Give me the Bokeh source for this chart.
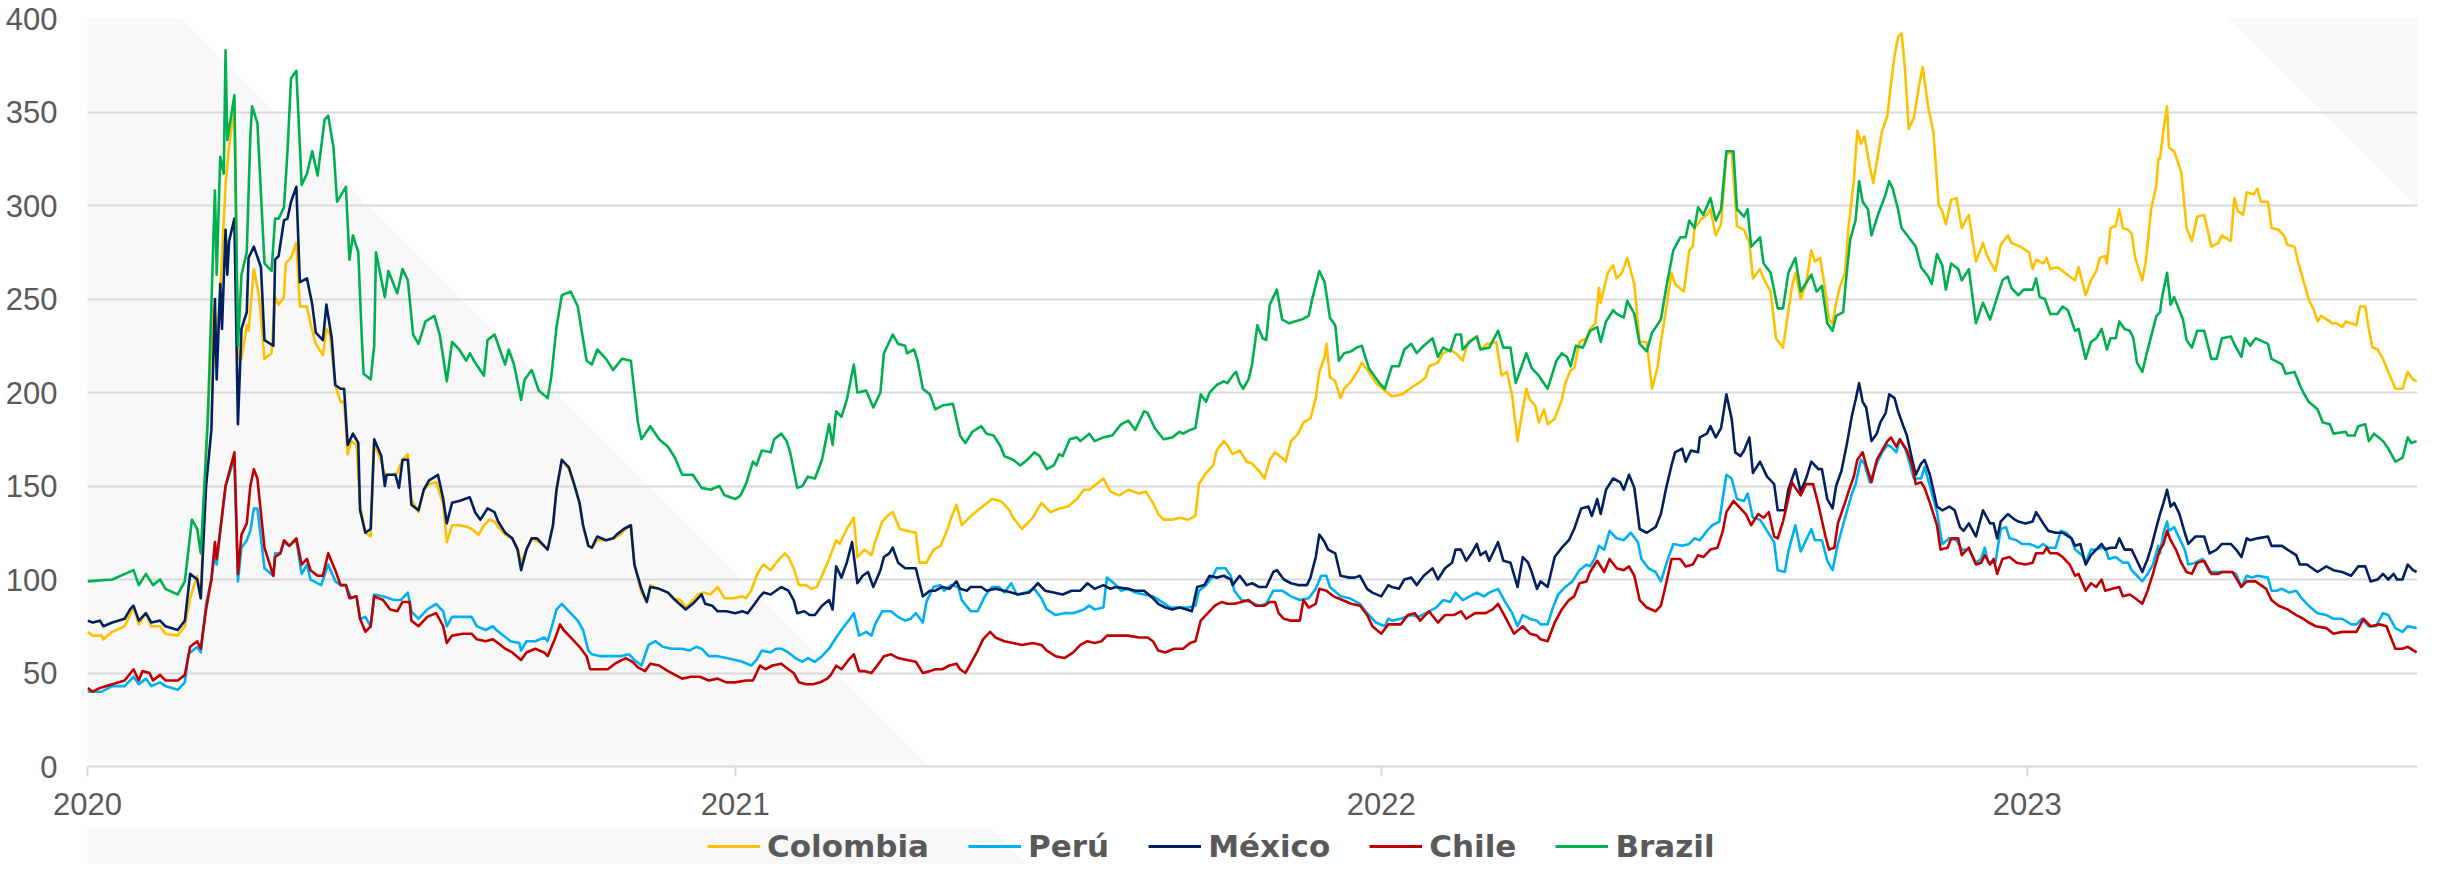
import pandas as pd
from bokeh.plotting import figure
from bokeh.layouts import column
from bokeh.models import (Range1d, FixedTicker, DatetimeTickFormatter, Legend,
                          LegendItem, PolyAnnotation)
from bokeh.embed import file_html
from bokeh.resources import INLINE

# ---------------- data (day offset from 2020-01-01, spread in bp) ----------------
START = pd.Timestamp("2020-01-01")
LAST_DAY = 1316.5

COLOMBIA = [(0,72),(3,70),(8,70),(9,68),(14,72),(21,75),(24,81),(26,85),(29,76),(33,82),(36,75),(41,75),(44,71),(51,70),(55,75),(58,90),(62,102),(64,90),(67,168),(71,245),(73,227),(75,254),(78,311),(80,332),(83,353),(85,218),(87,218),(90,236),(91,233),(94,266),(97,251),(100,218),(104,221),(106,251),(108,247),(111,251),(112,269),(115,272),(118,280),(120,246),(124,246),(126,237),(129,226),(133,220),(135,234),(137,231),(140,204),(143,195),(145,195),(147,167),(149,174),(152,172),(154,140),(157,125),(160,123),(162,173),(166,163),(168,156),(172,156),(175,157),(178,164),(181,167),(183,143),(187,136),(190,148),(193,151),(197,152),(201,140),(203,120),(206,129),(210,129),(215,128),(217,127),(221,124),(224,129),(227,132),(230,131),(232,128),(236,124),(240,122),(243,117),(245,109),(248,116),(251,122),(255,120),(258,118),(260,116),(263,129),(265,148),(268,164),(272,159),(275,150),(278,141),(280,129),(283,118),(285,117),(288,121),(293,121),(297,122),(301,124),(304,127),(307,129),(309,108),(313,93),(316,88),(318,97),(323,95),(328,93),(331,90),(335,89),(338,85),(345,92),(348,93),(352,92),(356,96),(360,90),(365,90),(370,91),(372,90),(375,94),(378,102),(381,107),(382,108),(386,105),(390,110),(394,114),(396,112),(399,106),(402,97),(406,97),(409,95),(412,96),(415,102),(419,111),(423,121),(425,119),(429,127),(433,133),(435,112),(439,116),(443,113),(445,120),(449,131),(452,134),(455,136),(459,127),(463,126),(468,125),(470,109),(474,109),(478,116),(482,118),(486,127),(488,133),(491,140),(494,129),(498,133),(503,137),(507,140),(511,143),(516,142),(521,137),(523,133),(528,127),(534,133),(539,141),(544,136),(549,138),(554,139),(559,143),(563,148),(566,148),(570,151),(574,154),(578,147),(583,145),(588,148),(594,146),(598,147),(602,141),(605,135),(608,132),(613,132),(617,133),(622,132),(626,134),(628,151),(632,157),(636,161),(638,169),(642,174),(644,172),(647,167),(651,169),(655,163),(658,162),(662,158),(665,154),(668,164),(671,168),(675,165),(677,163),(680,174),(684,178),(687,184),(691,186),(694,197),(696,211),(699,219),(700,226),(702,208),(705,206),(708,197),(710,202),(714,206),(718,212),(720,216),(724,211),(728,205),(733,201),(737,198),(743,199),(747,202),(752,205),(756,208),(758,214),(763,216),(766,221),(770,223),(773,221),(777,217),(780,227),(785,230),(787,223),(791,226),(796,227),(799,209),(802,211),(805,198),(808,174),(810,186),(813,202),(815,196),(818,193),(820,184),(823,191),(825,183),(829,186),(833,196),(835,205),(838,212),(840,213),(843,227),(847,229),(849,234),(852,237),(854,256),(855,248),(859,264),(862,268),(864,261),(867,264),(870,272),(874,258),(877,227),(881,227),(884,202),(887,213),(889,227),(892,245),(895,264),(897,258),(902,254),(905,276),(907,278),(908,288),(912,293),(915,295),(917,298),(920,284),(923,290),(926,327),(929,329),(932,289),(936,287),(939,280),(941,261),(945,266),(947,261),(951,254),(954,229),(958,224),(960,237),(963,256),(965,264),(968,250),(971,258),(974,276),(976,270),(979,272),(982,254),(984,239),(986,237),(988,248),(990,256),(993,264),(995,288),(998,313),(1000,340),(1002,333),(1004,337),(1007,321),(1009,312),(1012,329),(1014,340),(1017,348),(1019,365),(1021,380),(1023,390),(1025,392),(1027,372),(1029,341),(1032,347),(1035,365),(1037,374),(1040,353),(1043,339),(1046,300),(1048,297),(1050,290),(1053,303),(1056,304),(1059,288),(1063,295),(1067,270),(1071,280),(1073,274),(1075,270),(1078,265),(1081,279),(1085,284),(1087,280),(1092,278),(1097,275),(1099,266),(1101,271),(1105,269),(1107,272),(1109,266),(1113,267),(1116,265),(1120,262),(1123,260),(1125,267),(1129,252),(1132,260),(1135,265),(1137,272),(1140,273),(1141,269),(1143,288),(1146,289),(1148,298),(1150,288),(1153,287),(1155,285),(1157,272),(1161,260),(1163,270),(1166,298),(1169,311),(1170,325),(1171,325),(1173,341),(1175,353),(1176,331),(1179,329),(1183,318),(1186,288),(1189,281),(1192,294),(1196,295),(1200,278),(1204,280),(1206,284),(1211,281),(1213,304),(1215,297),(1218,295),(1220,307),(1224,306),(1226,309),(1228,302),(1232,302),(1234,288),(1238,287),(1241,284),(1243,279),(1247,278),(1249,270),(1252,260),(1255,250),(1258,244),(1260,238),(1262,241),(1267,238),(1268,237),(1271,237),(1274,235),(1276,238),(1282,236),(1284,246),(1287,246),(1289,234),(1291,224),(1294,223),(1297,218),(1300,211),(1304,202),(1308,202),(1311,211),(1314,207),(1316,206)]

PERU = [(0,40),(8,40),(14,43),(21,43),(26,48),(29,44),(33,47),(36,43),(41,45),(44,43),(51,41),(55,45),(57,60),(62,64),(64,61),(67,87),(70,100),(72,114),(73,108),(75,126),(78,150),(80,156),(83,165),(85,99),(87,117),(90,121),(92,126),(94,138),(96,138),(100,106),(105,102),(106,114),(109,114),(111,120),(114,118),(118,121),(121,103),(124,108),(126,100),(132,97),(136,108),(140,99),(143,97),(146,97),(149,90),(152,91),(154,79),(157,80),(160,75),(162,92),(167,91),(173,89),(177,89),(181,93),(183,83),(187,79),(192,84),(197,87),(201,83),(203,75),(206,80),(212,80),(217,80),(220,75),(225,73),(229,75),(231,73),(235,70),(239,67),(244,66),(245,62),(248,67),(253,67),(258,69),(260,67),(263,77),(265,84),(268,87),(272,83),(277,78),(280,73),(283,62),(285,60),(290,59),(296,59),(301,59),(306,60),(309,57),(313,54),(317,65),(321,67),(325,64),(330,63),(336,63),(340,62),(344,64),(347,63),(351,59),(356,59),(361,58),(366,57),(370,56),(375,54),(378,57),(381,62),(386,61),(389,63),(392,63),(396,61),(400,58),(404,56),(407,58),(411,56),(415,59),(419,63),(423,69),(426,73),(430,78),(433,82),(436,70),(440,72),(443,70),(445,76),(449,83),(454,83),(458,80),(462,78),(465,79),(468,82),(472,77),(474,88),(478,96),(482,97),(484,94),(488,97),(492,96),(494,89),(499,83),(503,83),(507,91),(511,96),(515,96),(518,93),(522,98),(525,92),(530,93),(535,95),(539,90),(542,84),(547,81),(552,82),(557,82),(563,84),(566,86),(569,84),(574,85),(576,101),(580,98),(584,94),(588,95),(592,93),(597,92),(602,91),(607,88),(612,85),(617,85),(622,85),(626,86),(628,94),(632,97),(636,102),(638,106),(643,106),(646,102),(648,94),(652,89),(657,88),(662,86),(666,87),(670,94),(675,94),(680,91),(685,89),(690,90),(694,95),(697,102),(700,102),(702,96),(708,91),(713,90),(719,87),(723,82),(728,77),(733,75),(735,79),(737,78),(742,79),(748,81),(752,80),(758,83),(762,85),(766,89),(770,88),(773,93),(777,89),(781,91),(785,93),(789,91),(792,93),(797,95),(801,88),(805,82),(808,75),(811,81),(815,79),(819,78),(821,76),(825,76),(828,85),(831,92),(835,96),(839,99),(843,105),(847,108),(849,107),(852,112),(854,118),(857,116),(860,126),(864,122),(868,121),(872,125),(876,120),(878,111),(882,106),(886,104),(889,99),(893,111),(896,119),(901,118),(905,119),(908,122),(911,121),(915,126),(918,129),(922,131),(926,156),(929,154),(932,143),(936,142),(938,146),(941,133),(945,132),(949,126),(953,120),(955,105),(959,104),(961,115),(965,129),(968,115),(971,121),(974,127),(976,121),(980,121),(983,110),(986,105),(989,119),(993,133),(997,146),(999,151),(1002,164),(1004,162),(1007,152),(1011,162),(1014,168),(1017,172),(1019,171),(1022,168),(1024,175),(1027,170),(1029,164),(1032,154),(1036,154),(1038,160),(1041,150),(1045,136),(1048,119),(1052,122),(1056,121),(1059,116),(1063,116),(1067,109),(1070,111),(1072,117),(1074,109),(1078,109),(1081,127),(1084,128),(1086,122),(1090,121),(1093,119),(1097,119),(1100,118),(1102,117),(1105,119),(1108,117),(1112,117),(1115,126),(1118,125),(1121,122),(1123,116),(1127,113),(1129,109),(1132,116),(1135,116),(1138,117),(1140,117),(1142,111),(1146,112),(1150,109),(1153,109),(1155,105),(1158,102),(1161,99),(1164,103),(1167,108),(1170,118),(1171,114),(1173,125),(1175,131),(1176,126),(1179,128),(1182,122),(1185,116),(1187,108),(1191,109),(1195,111),(1199,104),(1203,104),(1206,104),(1211,104),(1214,103),(1217,96),(1220,102),(1223,101),(1226,102),(1232,101),(1234,94),(1237,94),(1240,95),(1244,93),(1248,94),(1251,90),(1255,86),(1260,82),(1265,81),(1269,79),(1274,79),(1279,76),(1282,76),(1285,79),(1289,75),(1293,75),(1297,82),(1300,81),(1304,74),(1308,72),(1311,75),(1316,74)]

MEXICO = [(0,78),(3,77),(7,78),(9,75),(14,77),(21,79),(24,84),(26,86),(29,78),(33,82),(36,77),(41,78),(44,75),(51,73),(55,78),(58,103),(62,100),(64,90),(67,150),(70,180),(72,250),(73,207),(75,258),(76,234),(78,287),(79,263),(80,281),(83,293),(85,183),(87,234),(90,243),(91,272),(94,278),(98,267),(100,228),(105,225),(106,271),(108,273),(111,292),(113,293),(115,302),(118,310),(120,259),(124,261),(127,247),(129,232),(133,228),(135,247),(138,229),(140,204),(143,202),(145,202),(147,172),(150,178),(153,173),(154,137),(157,125),(160,127),(162,175),(166,166),(168,150),(169,156),(174,156),(176,149),(178,164),(181,164),(183,140),(187,137),(190,148),(193,153),(198,156),(201,143),(203,130),(206,141),(210,142),(216,144),(219,136),(222,132),(226,138),(230,136),(232,131),(236,125),(240,122),(243,116),(245,105),(248,116),(251,122),(254,122),(258,118),(260,116),(263,129),(265,148),(268,164),(272,160),(275,151),(278,141),(280,129),(283,118),(285,117),(288,123),(293,121),(297,122),(299,124),(303,127),(307,129),(309,108),(313,95),(316,88),(318,96),(323,95),(328,93),(332,89),(338,84),(342,87),(347,92),(349,87),(353,86),(356,83),(361,83),(366,82),(370,83),(373,82),(377,87),(380,91),(382,93),(386,92),(389,94),(392,96),(396,94),(399,89),(401,82),(405,83),(408,81),(411,81),(415,86),(419,89),(421,84),(423,107),(426,101),(429,109),(432,120),(435,98),(438,102),(441,104),(444,96),(448,105),(450,112),(453,114),(455,117),(458,109),(462,106),(468,106),(472,91),(476,94),(479,94),(483,96),(487,95),(491,99),(493,95),(497,94),(499,96),(505,96),(508,94),(513,95),(518,94),(522,93),(526,92),(532,93),(537,98),(541,94),(546,93),(551,92),(556,94),(561,94),(565,98),(569,95),(574,97),(578,95),(581,96),(588,95),(592,94),(597,94),(602,90),(605,87),(609,85),(613,84),(617,85),(621,84),(624,83),(627,96),(631,97),(634,102),(638,101),(642,102),(646,100),(647,97),(651,102),(655,97),(658,98),(662,96),(666,96),(670,104),(672,105),(676,100),(680,98),(684,97),(689,97),(691,101),(694,112),(696,124),(699,120),(701,116),(705,114),(708,102),(713,101),(716,101),(719,102),(723,95),(726,93),(731,91),(735,97),(737,96),(741,95),(744,100),(748,101),(751,97),(755,102),(760,106),(763,100),(767,106),(771,109),(773,116),(776,116),(779,110),(782,114),(785,119),(787,113),(790,115),(792,110),(797,120),(800,110),(804,109),(808,96),(811,112),(814,109),(816,104),(819,95),(821,99),(825,96),(829,112),(833,117),(837,121),(840,127),(844,138),(848,139),(850,134),(853,143),(855,135),(858,148),(862,154),(866,152),(868,148),(871,156),(874,149),(877,127),(881,125),(886,128),(889,135),(892,149),(895,161),(897,168),(901,170),(903,163),(906,169),(910,168),(911,176),(915,178),(917,182),(920,176),(923,181),(926,199),(929,186),(931,168),(934,166),(936,169),(939,176),(941,157),(945,163),(949,155),(953,151),(955,137),(959,137),(961,148),(965,159),(968,147),(971,154),(974,163),(978,159),(980,159),(983,143),(986,138),(988,150),(991,158),(994,172),(997,188),(999,196),(1001,205),(1003,195),(1005,192),(1008,174),(1011,178),(1013,184),(1016,189),(1018,199),(1021,197),(1023,190),(1026,182),(1028,177),(1031,164),(1033,156),(1036,162),(1038,164),(1041,156),(1045,139),(1048,137),(1052,139),(1055,137),(1058,128),(1060,126),(1063,130),(1067,123),(1071,137),(1075,130),(1077,130),(1079,122),(1081,131),(1085,135),(1089,132),(1091,131),(1095,130),(1099,131),(1101,136),(1105,130),(1108,126),(1112,125),(1116,125),(1121,122),(1123,118),(1126,119),(1129,108),(1132,113),(1135,116),(1138,119),(1140,116),(1143,117),(1146,117),(1148,122),(1151,116),(1155,116),(1157,112),(1161,104),(1164,111),(1166,117),(1169,128),(1171,135),(1173,141),(1175,148),(1177,139),(1179,141),(1182,135),(1185,125),(1187,119),(1191,123),(1196,123),(1199,114),(1203,116),(1206,119),(1211,119),(1214,116),(1217,112),(1220,122),(1222,121),(1226,122),(1232,123),(1234,118),(1240,118),(1243,116),(1248,113),(1250,108),(1254,108),(1260,104),(1265,107),(1269,105),(1274,104),(1279,102),(1283,107),(1287,107),(1290,99),(1294,100),(1297,103),(1300,100),(1303,103),(1305,100),(1308,100),(1311,108),(1314,105),(1316,104)]

CHILE = [(0,42),(3,40),(7,42),(14,44),(21,46),(26,52),(29,46),(31,51),(35,50),(37,46),(41,49),(44,46),(51,46),(55,49),(58,64),(62,67),(64,63),(67,84),(70,100),(72,120),(73,111),(75,126),(78,150),(80,157),(83,168),(85,103),(87,124),(90,130),(92,150),(94,159),(96,154),(100,117),(105,102),(106,112),(109,114),(111,121),(114,118),(118,122),(121,108),(124,111),(126,105),(130,102),(133,102),(136,114),(140,105),(143,97),(146,97),(148,90),(152,91),(154,79),(157,72),(160,75),(162,91),(167,89),(171,84),(175,83),(178,88),(182,88),(183,78),(187,75),(192,80),(197,82),(201,75),(203,66),(206,70),(212,71),(217,71),(220,68),(225,67),(229,68),(232,66),(236,63),(240,61),(245,57),(248,61),(253,63),(258,61),(260,59),(264,68),(267,76),(269,73),(273,69),(278,64),(282,59),(284,52),(289,52),(294,52),(298,55),(304,58),(308,56),(311,53),(315,51),(318,55),(323,54),(328,51),(332,49),(336,47),(341,48),(346,48),(351,46),(356,47),(361,45),(366,45),(372,46),(376,46),(380,54),(383,52),(387,54),(392,55),(396,52),(399,50),(402,45),(406,44),(410,44),(414,45),(418,47),(420,49),(423,54),(426,52),(430,57),(433,60),(436,51),(439,51),(443,50),(447,55),(450,59),(454,60),(458,58),(463,57),(468,56),(472,50),(476,51),(479,52),(483,52),(487,54),(491,55),(493,52),(496,50),(499,55),(503,62),(506,68),(510,72),(513,69),(518,67),(523,66),(528,65),(534,66),(539,65),(542,62),(547,59),(552,58),(557,61),(561,65),(565,67),(569,66),(573,67),(576,70),(581,70),(588,70),(594,69),(599,69),(602,67),(605,62),(609,61),(614,63),(619,63),(623,66),(626,67),(629,78),(633,82),(637,86),(641,88),(644,87),(648,87),(652,88),(656,89),(660,86),(665,86),(668,88),(671,88),(673,82),(676,79),(680,78),(685,78),(687,89),(690,85),(694,87),(696,95),(700,94),(704,91),(709,89),(714,87),(719,86),(723,81),(726,75),(731,71),(735,76),(742,76),(746,81),(750,82),(753,78),(758,83),(763,77),(767,81),(772,81),(776,83),(779,79),(784,82),(790,82),(794,84),(797,87),(801,80),(806,71),(811,75),(815,71),(819,70),(821,68),(825,67),(829,77),(833,84),(837,89),(840,91),(843,98),(847,99),(849,104),(853,110),(857,104),(860,111),(864,106),(868,105),(871,107),(874,102),(877,89),(881,85),(886,83),(889,86),(892,98),(895,111),(900,111),(903,107),(907,108),(910,113),(913,112),(917,116),(921,117),(924,126),(926,136),(930,142),(934,138),(937,135),(940,129),(944,135),(947,133),(950,136),(953,123),(955,122),(958,131),(960,139),(963,152),(965,149),(968,145),(971,151),(975,151),(978,140),(982,123),(984,116),(987,117),(989,130),(993,141),(995,147),(998,155),(1000,164),(1003,168),(1005,161),(1008,152),(1011,164),(1014,169),(1017,174),(1019,176),(1022,171),(1024,175),(1028,169),(1031,161),(1033,151),(1036,152),(1038,149),(1041,141),(1045,129),(1047,116),(1051,117),(1053,122),(1057,122),(1059,113),(1063,117),(1067,108),(1070,109),(1072,113),(1075,108),(1077,111),(1079,103),(1082,111),(1086,112),(1090,109),(1095,108),(1099,109),(1101,114),(1105,114),(1107,117),(1109,114),(1113,114),(1116,112),(1120,108),(1123,102),(1125,103),(1129,94),(1132,98),(1135,96),(1138,100),(1140,94),(1144,95),(1148,96),(1150,91),(1154,92),(1157,90),(1161,87),(1164,94),(1167,103),(1170,113),(1171,116),(1173,119),(1175,126),(1177,121),(1180,116),(1183,109),(1186,104),(1189,103),(1192,109),(1196,110),(1200,103),(1204,103),(1206,104),(1212,104),(1217,96),(1220,99),(1225,99),(1231,95),(1234,89),(1238,86),(1243,84),(1248,81),(1252,79),(1255,77),(1259,75),(1265,74),(1269,71),(1274,72),(1279,72),(1282,72),(1286,79),(1290,75),(1295,76),(1299,75),(1301,70),(1304,63),(1308,63),(1311,64),(1316,61)]

BRAZIL = [(0,99),(14,100),(26,105),(29,97),(33,103),(37,97),(41,100),(44,95),(51,92),(55,99),(59,132),(62,127),(64,114),(68,186),(72,308),(73,263),(75,326),(77,317),(78,383),(79,335),(83,359),(85,225),(87,263),(90,275),(92,337),(93,353),(96,344),(100,269),(104,265),(106,293),(108,293),(111,299),(113,329),(115,368),(118,372),(121,311),(124,317),(127,329),(130,316),(134,346),(136,348),(139,331),(141,302),(146,310),(148,271),(150,284),(153,275),(155,229),(156,210),(160,207),(162,225),(163,275),(168,251),(170,265),(175,253),(178,266),(181,260),(184,231),(187,226),(191,238),(196,241),(199,231),(203,206),(206,227),(210,223),(214,217),(216,221),(219,216),(224,209),(226,228),(230,231),(236,215),(238,223),(241,215),(245,196),(247,207),(251,212),(255,201),(260,197),(262,208),(265,235),(268,252),(273,254),(277,246),(282,217),(285,215),(288,223),(293,218),(297,212),(302,218),(307,217),(311,184),(313,175),(318,182),(323,175),(328,171),(332,165),(336,156),(342,156),(347,149),(352,148),(357,150),(360,145),(366,143),(369,145),(372,151),(376,163),(378,161),(381,169),(386,168),(388,175),(392,178),(395,174),(397,168),(401,149),(404,150),(407,155),(411,154),(415,164),(419,183),(421,172),(423,190),(426,187),(429,196),(433,215),(435,200),(440,201),(444,192),(448,200),(450,221),(455,231),(458,226),(462,225),(463,221),(467,223),(469,217),(472,202),(476,199),(479,191),(483,193),(489,194),(493,177),(496,173),(500,179),(505,182),(508,178),(512,177),(516,171),(518,166),(523,164),(527,161),(531,164),(535,168),(538,166),(542,159),(546,161),(549,167),(551,166),(555,175),(559,176),(561,174),(566,178),(569,174),(574,176),(579,177),(584,183),(588,185),(592,180),(597,190),(599,189),(603,181),(608,175),(613,176),(617,179),(619,178),(623,180),(626,181),(629,199),(632,195),(634,200),(638,204),(642,206),(644,205),(647,209),(649,211),(651,205),(653,202),(656,207),(658,215),(661,236),(664,229),(666,228),(668,247),(672,255),(675,239),(679,237),(682,238),(686,239),(690,241),(692,250),(696,265),(699,259),(702,240),(705,236),(707,217),(710,221),(714,222),(717,224),(720,225),(724,213),(730,205),(733,202),(737,214),(741,214),(744,223),(748,226),(751,221),(755,225),(760,229),(763,219),(766,224),(770,222),(773,231),(776,231),(777,223),(781,227),(785,230),(787,223),(792,224),(797,233),(800,224),(804,224),(807,205),(813,221),(816,213),(820,209),(825,202),(830,217),(833,221),(836,219),(838,214),(841,225),(845,224),(849,233),(853,235),(855,227),(858,238),(862,244),(864,242),(868,240),(870,249),(874,242),(877,226),(881,222),(884,232),(889,239),(892,256),(896,276),(900,283),(903,283),(905,292),(908,288),(910,299),(913,295),(917,304),(920,292),(923,298),(926,329),(930,329),(932,298),(936,294),(938,298),(940,278),(945,283),(947,269),(951,264),(955,245),(958,245),(961,264),(965,272),(968,254),(972,260),(974,263),(977,254),(980,257),(983,237),(986,233),(988,241),(992,243),(994,264),(996,282),(999,292),(1001,313),(1003,302),(1006,298),(1008,284),(1012,296),(1016,306),(1018,313),(1020,309),(1023,298),(1025,288),(1029,283),(1033,278),(1036,267),(1040,262),(1042,258),(1045,274),(1048,268),(1050,255),(1053,269),(1057,266),(1059,260),(1063,266),(1067,237),(1071,248),(1075,239),(1078,248),(1082,260),(1085,262),(1087,256),(1091,252),(1094,255),(1099,255),(1101,261),(1103,251),(1106,250),(1109,242),(1113,242),(1116,246),(1119,244),(1123,233),(1125,234),(1129,218),(1132,227),(1135,229),(1138,234),(1141,223),(1143,229),(1146,229),(1148,238),(1151,234),(1154,233),(1156,229),(1158,216),(1161,211),(1163,219),(1166,230),(1169,241),(1171,243),(1172,250),(1175,264),(1177,247),(1179,251),(1184,239),(1186,228),(1189,224),(1192,233),(1196,233),(1200,218),(1203,218),(1206,229),(1211,230),(1214,224),(1217,219),(1219,229),(1222,225),(1225,229),(1232,226),(1234,218),(1240,215),(1242,210),(1247,211),(1250,204),(1252,200),(1255,195),(1260,191),(1263,184),(1267,183),(1269,178),(1276,179),(1277,177),(1281,177),(1283,182),(1287,183),(1289,174),(1292,178),(1297,174),(1300,170),(1304,163),(1308,165),(1311,176),(1313,173),(1316,174)]

SERIES_NAMES = ["Colombia", "Perú", "México", "Chile", "Brazil"]
SERIES_DATA = [COLOMBIA, PERU, MEXICO, CHILE, BRAZIL]
SERIES_COLORS = ["#FFC000", "#00B0F0", "#002060", "#C00000", "#00B050"]
YEAR_TICKS = [2020, 2021, 2022, 2023]
Y_TICKS = [0, 50, 100, 150, 200, 250, 300, 350, 400]

# ---------------- layout sizes ----------------
W = 2421           # page is 2437 wide with 8px margins
H_PLOT = 827       # chart part
H_LEG = 37         # legend strip below it (total 864)
FL, FT, FB_BORDER = 87, 18, 61   # frame borders of the chart
FB = H_PLOT - FB_BORDER          # frame bottom (canvas y) = 766
GRAY = "#f8f8f8"
TXT = "#595959"
TICK_FONT = "Liberation Sans"

# ---------------- main chart ----------------
p = figure(width=W, height=H_PLOT, x_axis_type="datetime", output_backend="svg",
           toolbar_location=None,
           x_range=Range1d(START, START + pd.Timedelta(days=LAST_DAY)),
           y_range=Range1d(0, 400),
           min_border_left=FL, min_border_right=4, min_border_top=FT,
           min_border_bottom=FB_BORDER,
           background_fill_color="white", border_fill_color="white",
           outline_line_color=None)

# faint decorative diagonal panels of the template.
# screen units here are relative to the frame: x from its left, y upward from its bottom.
# Diagonal edge in canvas pixels: x = 163 + y (left panel), x = 2210 + y (top-right corner).
def to_frame(pts, left, bottom):
    return [x - left for x, _ in pts], [bottom - y for _, y in pts]

lx, ly = to_frame([(0, 0), (163, 0), (163 + FB, FB), (0, FB)], FL, FB)
p.add_layout(PolyAnnotation(xs=lx, ys=ly, xs_units="screen", ys_units="screen",
                            fill_color=GRAY, fill_alpha=1, line_color=None, level="image"))
rx, ry = to_frame([(2210, 0), (W, 0), (W, W - 2210)], FL, FB)
p.add_layout(PolyAnnotation(xs=rx, ys=ry, xs_units="screen", ys_units="screen",
                            fill_color=GRAY, fill_alpha=1, line_color=None, level="image"))

p.xgrid.grid_line_color = None
p.ygrid.grid_line_color = "#d9d9d9"
p.ygrid.grid_line_width = 2
p.yaxis.ticker = FixedTicker(ticks=Y_TICKS)
p.xaxis.ticker = FixedTicker(ticks=[pd.Timestamp(f"{y}-01-01").value / 1e6 for y in YEAR_TICKS])
p.xaxis.formatter = DatetimeTickFormatter(years="%Y", months="%Y", days="%Y", hours="%Y")

for ax in (p.xaxis[0], p.yaxis[0]):
    ax.major_label_text_font = TICK_FONT
    ax.major_label_text_font_size = "31px"
    ax.major_label_text_color = TXT
    ax.minor_tick_line_color = None

p.yaxis.axis_line_color = None
p.yaxis.major_tick_line_color = None
p.yaxis.major_tick_out = 0
p.yaxis.major_tick_in = 0
p.yaxis.major_label_standoff = 30

p.xaxis.axis_line_color = "#d9d9d9"
p.xaxis.axis_line_width = 2
p.xaxis.major_tick_line_color = "#d9d9d9"
p.xaxis.major_tick_line_width = 2
p.xaxis.major_tick_in = 0
p.xaxis.major_tick_out = 10
p.xaxis.major_label_standoff = 16

series_xy = []
for name, data, color in zip(SERIES_NAMES, SERIES_DATA, SERIES_COLORS):
    days = [d for d, _ in data]
    vals = [v for _, v in data]
    xs = START + pd.to_timedelta(days, unit="D")
    series_xy.append((xs, vals))
    p.line(xs, vals, line_color=color, line_width=2.6, line_join="round")

# ---------------- legend strip (frame aligned with the chart above) ----------------
lg = figure(width=W, height=H_LEG, output_backend="svg", toolbar_location=None,
            x_range=Range1d(0, 1), y_range=Range1d(0, 1),
            x_axis_location=None, y_axis_location=None,
            min_border=0, outline_line_color=None,
            background_fill_color="white", border_fill_color="white")
lg.grid.visible = False
# same diagonal continued: canvas y of the strip starts at H_PLOT
gx, gy = to_frame([(0, 0), (163 + H_PLOT, 0), (163 + H_PLOT + H_LEG, H_LEG), (0, H_LEG)],
                  FL, H_LEG)
lg.add_layout(PolyAnnotation(xs=gx, ys=gy, xs_units="screen", ys_units="screen",
                             fill_color=GRAY, fill_alpha=1, line_color=None, level="image"))
items = []
for name, color, (xs, vals) in zip(SERIES_NAMES, SERIES_COLORS, series_xy):
    # same series, outside this strip's range: only its legend swatch shows
    r = lg.line(xs, vals, line_color=color, line_width=3)
    items.append(LegendItem(label=name, renderers=[r]))

legend = Legend(items=items, orientation="horizontal", location=(620, 0),
                label_text_font="DejaVu Sans", label_text_font_style="bold",
                label_text_font_size="31px", label_text_color=TXT,
                glyph_width=53, glyph_height=20, label_standoff=7, spacing=39,
                padding=0, margin=0, border_line_color=None,
                background_fill_alpha=0)
lg.add_layout(legend, "center")

page = column(p, lg, spacing=0)
open("out.html", "w").write(file_html(page, INLINE))
